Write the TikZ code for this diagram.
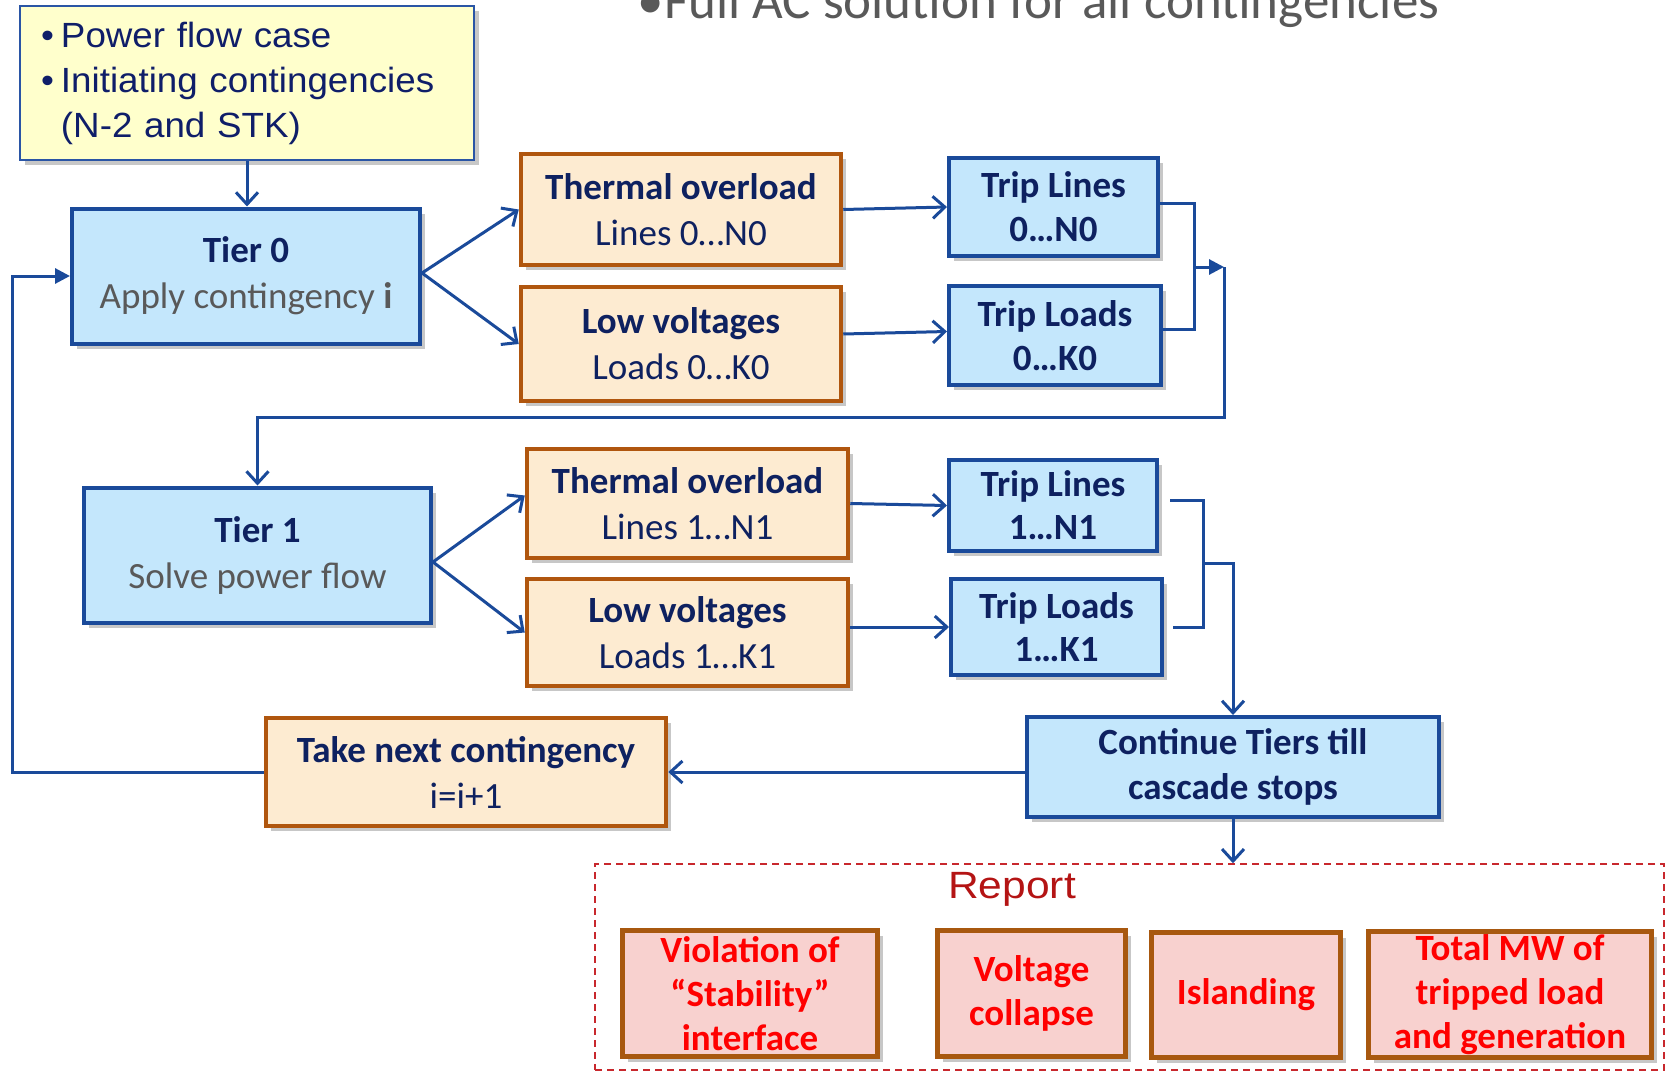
\documentclass[tikz,border=0pt]{standalone}
\usepackage{fontspec}
\setmainfont{Carlito}
\newfontfamily\arialx[FakeStretch=1.05]{Liberation Sans}
\newfontfamily\arialr[FakeStretch=1.12]{Liberation Sans}
\usetikzlibrary{arrows.meta,shadows,calc}
\definecolor{bfill}{HTML}{C4E7FC}
\definecolor{bborder}{HTML}{1A4A9A}
\definecolor{navy}{HTML}{0E2160}
\definecolor{subgray}{HTML}{595959}
\definecolor{ofill}{HTML}{FDEBD1}
\definecolor{oborder}{HTML}{B0560E}
\definecolor{yfill}{HTML}{FFFFCC}
\definecolor{yborder}{HTML}{2A55A5}
\definecolor{ytext}{HTML}{0F1E69}
\definecolor{pfill}{HTML}{F8D1CF}
\definecolor{pborder}{HTML}{A8580F}
\definecolor{ptext}{HTML}{FF0000}
\definecolor{repred}{HTML}{B41414}
\definecolor{dashred}{HTML}{C8282D}
\definecolor{lineblue}{HTML}{1A4A9A}
\begin{document}
\begin{tikzpicture}[x=1pt,y=-1pt,
  shad/.style={drop shadow={shadow xshift=5pt,shadow yshift=-5pt,opacity=0.22,fill=black}},
  boxbase/.style={inner sep=0pt,align=center,font=\fontsize{37}{46}\selectfont,shad},
  bluebox/.style={boxbase,draw=bborder,fill=bfill,line width=4pt,text=navy},
  orbox/.style={boxbase,draw=oborder,fill=ofill,line width=4.5pt,text=navy},
  pinkbox/.style={boxbase,draw=pborder,fill=pfill,line width=5pt,text=ptext,font=\fontsize{37}{44}\selectfont\bfseries},
  yellowbox/.style={draw=yborder,fill=yfill,line width=2pt,inner sep=0pt,text=ytext,shad,
     font=\arialx\fontsize{35}{45}\selectfont,align=left},
  conn/.style={draw=lineblue,line width=3pt},
  arr/.style={conn,-{Straight Barb[length=12pt,width=22pt]}},
  tri/.style={conn,-{Triangle[length=15pt,width=15pt]}}]
\useasboundingbox (0,0) rectangle (1670,1073);

% title fragment
\node[anchor=base west,inner sep=0pt,font=\fontsize{53}{60}\selectfont,text=subgray] (title) at (637,19)
  {\makebox[27pt][l]{•}Full AC solution for all contingencies};

% report frame
\node[draw=dashred,line width=1.5pt,dash pattern=on 7pt off 5pt,minimum width=1069pt,minimum height=206pt,inner sep=0pt] (report) at (1129.5,967) {};
\node[font=\arialr\fontsize{38}{40}\selectfont,text=repred,inner sep=0pt] (replabel) at (1012,889) {Report};

% boxes
\node[yellowbox,minimum width=454pt,minimum height=154pt,text width=412pt] (yellow) at (247,83)
  {\begin{tabular}{@{}l@{}l@{}}\makebox[20pt][l]{•}&Power flow case\\ \makebox[20pt][l]{•}&Initiating contingencies\\ &(N-2 and STK)\end{tabular}};

\node[bluebox,minimum width=348pt,minimum height=135pt] (tier0) at (246,276)
  {\textbf{Tier 0}\\{\color{subgray}Apply contingency \textbf{i}}};
\node[orbox,minimum width=320pt,minimum height=111pt] (th0) at (681,209.5)
  {\textbf{Thermal overload}\\Lines 0…N0};
\node[orbox,minimum width=320pt,minimum height=114pt] (lv0) at (681,344)
  {\textbf{Low voltages}\\Loads 0…K0};
\node[bluebox,minimum width=209pt,minimum height=98pt,font=\fontsize{37}{44}\selectfont\bfseries] (tl0) at (1053.5,207)
  {Trip Lines\\0…N0};
\node[bluebox,minimum width=212pt,minimum height=99pt,font=\fontsize{37}{44}\selectfont\bfseries] (tld0) at (1055,335.5)
  {Trip Loads\\0…K0};

\node[bluebox,minimum width=347pt,minimum height=135pt] (tier1) at (257.5,555)
  {\textbf{Tier 1}\\{\color{subgray}Solve power flow}};
\node[orbox,minimum width=321pt,minimum height=109pt] (th1) at (687.5,503.5)
  {\textbf{Thermal overload}\\Lines 1…N1};
\node[orbox,minimum width=321pt,minimum height=107pt] (lv1) at (687.5,632.5)
  {\textbf{Low voltages}\\Loads 1…K1};
\node[bluebox,minimum width=208pt,minimum height=91pt,font=\fontsize{37}{43}\selectfont\bfseries] (tl1) at (1053,505.5)
  {Trip Lines\\1…N1};
\node[bluebox,minimum width=211pt,minimum height=96pt,font=\fontsize{37}{43}\selectfont\bfseries] (tld1) at (1056.5,627)
  {Trip Loads\\1…K1};

\node[orbox,minimum width=400pt,minimum height=108pt] (next) at (466,772)
  {\textbf{Take next contingency}\\i=i+1};
\node[bluebox,minimum width=412pt,minimum height=100pt,font=\fontsize{37}{45}\selectfont\bfseries] (cont) at (1233,767)
  {Continue Tiers till\\cascade stops};

\node[pinkbox,minimum width=255pt,minimum height=126pt] (r1) at (750,993.5)
  {Violation of\\“Stability”\\interface};
\node[pinkbox,minimum width=188pt,minimum height=126pt] (r2) at (1031.5,993.5)
  {Voltage\\collapse};
\node[pinkbox,minimum width=189pt,minimum height=125pt] (r3) at (1246,995)
  {Islanding};
\node[pinkbox,minimum width=283pt,minimum height=126pt] (r4) at (1510,994.5)
  {Total MW of\\tripped load\\and generation};

% connectors
\draw[arr] (yellow.south) -- (yellow.south |- tier0.north);
\draw[arr] ($(tier0.east)+(0,-3)$) coordinate (t0o) -- (th0.west);
\draw[arr] (t0o) -- (lv0.west);
\draw[arr] (th0.east) -- (tl0.west);
\draw[arr] ($(lv0.east)+(0,-10)$) -- ($(tld0.west)+(0,-4)$);
\coordinate (b0) at (1194,267);
\coordinate (j0) at (1224,267);
\coordinate (d0) at (1224,417);
\draw[conn] ($(tl0.east)+(0,-4)$) -| (b0) |- ($(tld0.east)+(0,-6)$);
\draw[tri] (b0) -- (j0);
\draw[arr] (j0) -- (d0) -| (tier1.north);

\coordinate (t1o) at ($(tier1.east)+(0,7)$);
\draw[arr] (t1o) -- ($(th1.west)+(0,-8)$);
\draw[arr] (t1o) -- (lv1.west);
\draw[arr] (th1.east) -- (tl1.west);
\draw[arr] (lv1.east |- tld1.west) -- (tld1.west);
\coordinate (b1) at (1203,563);
\draw[conn] ($(tl1.east)+(11,-5)$) -| (b1) |- ($(tld1.east)+(9,0)$);
\draw[arr] (b1) -| (cont.north);
\draw[arr] (cont.west |- next.east) -- (next.east);
\coordinate (lp) at (12,772);
\draw[tri] (next.west) -- (lp) |- (tier0.west);
\draw[arr] (cont.south) -- (cont.south |- report.north);
\end{tikzpicture}
\end{document}
